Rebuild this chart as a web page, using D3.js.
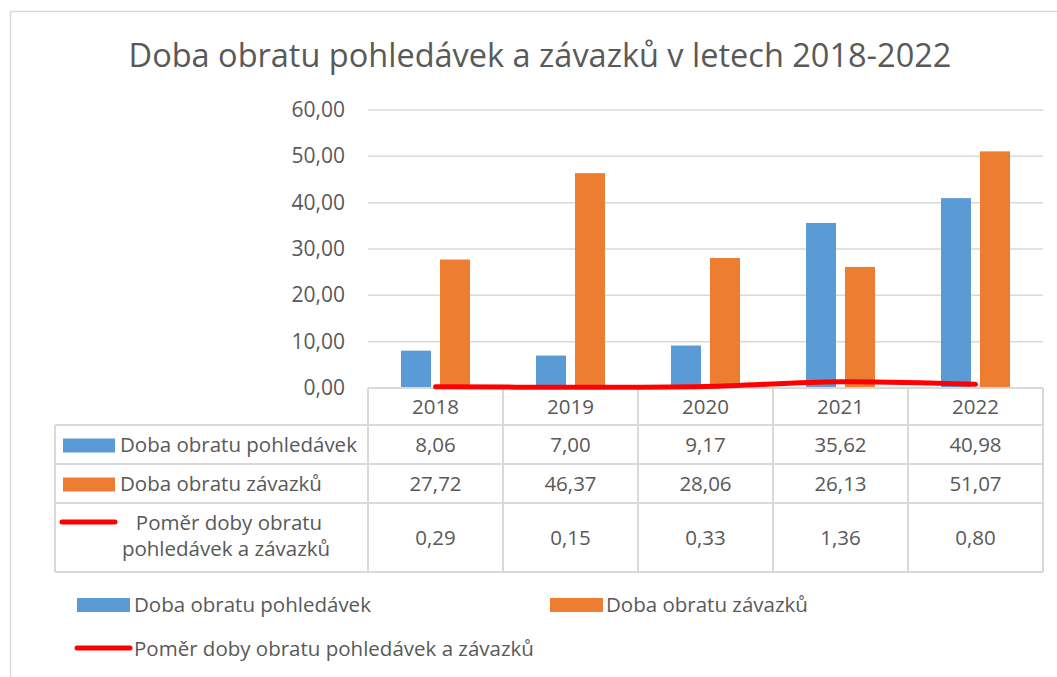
<html lang="cs">
<head>
<meta charset="UTF-8">
<title>Doba obratu</title>
<script src="https://d3js.org/d3.v7.min.js"></script>
<style>
  body { margin: 0; background: #fff; }
  text { font-family: "Open Sans", sans-serif; fill: #595959; }
</style>
</head>
<body>
<div id="chart"></div>
<script>
    // data
    const years = ["2018", "2019", "2020", "2021", "2022"];
    const pohledavky = [8.06, 7.00, 9.17, 35.62, 40.98];
    const zavazky = [27.72, 46.37, 28.06, 26.13, 51.07];
    const pomer = [0.29, 0.15, 0.33, 1.36, 0.80];
    const yTicks = [0, 10, 20, 30, 40, 50, 60];
    const seriesNames = ["Doba obratu pohledávek", "Doba obratu závazků", "Poměr doby obratu pohledávek a závazků"];

    const width = 1057, height = 677;
    const blue = "#5b9bd5", orange = "#ed7d31", red = "#ff0000", grid = "#d9d9d9";
    const fs = "20.5px";
    const fmt = v => d3.format(".2f")(v).replace(".", ",");

    const svg = d3.select("#chart").append("svg")
        .attr("width", width)
        .attr("height", height);

    // outer frame
    svg.append("path")
        .attr("d", `M10.5,${height} V11.5 H${width}`)
        .attr("fill", "none")
        .attr("stroke", grid)
        .attr("stroke-width", 1.5);

    // title
    svg.append("text")
        .attr("x", 540).attr("y", 67)
        .attr("text-anchor", "middle")
        .style("font-size", "32.5px")
        .text("Doba obratu pohledávek a závazků v letech 2018-2022");

    const x = d3.scaleBand().domain(years).range([368, 1043]);
    const xs = d3.scaleBand().domain(["p", "z"]).range([0, x.bandwidth()])
        .paddingInner(0.23).paddingOuter(0.846);
    const y = d3.scaleLinear().domain([0, 60]).range([388, 110]);

    // gridlines
    svg.append("g").selectAll("line")
        .data(yTicks.filter(d => d > 0))
        .join("line")
        .attr("x1", 368).attr("x2", 1043)
        .attr("y1", d => y(d)).attr("y2", d => y(d))
        .attr("stroke", grid).attr("stroke-width", 1.5);

    // y labels
    svg.append("g").selectAll("text")
        .data(yTicks)
        .join("text")
        .attr("x", 345).attr("y", d => y(d) + 7)
        .attr("text-anchor", "end")
        .style("font-size", "21px")
        .text(d => fmt(d));

    // bars
    const bars = svg.append("g");
    bars.selectAll(".p").data(pohledavky).join("rect")
        .attr("x", (d, i) => x(years[i]) + xs("p"))
        .attr("width", xs.bandwidth())
        .attr("y", d => y(d))
        .attr("height", d => y(0) - y(d))
        .attr("fill", blue);
    bars.selectAll(".z").data(zavazky).join("rect")
        .attr("x", (d, i) => x(years[i]) + xs("z"))
        .attr("width", xs.bandwidth())
        .attr("y", d => y(d))
        .attr("height", d => y(0) - y(d))
        .attr("fill", orange);

    // data table
    const rowTop = [388, 425, 464, 503, 572];
    const tableLeft = 55, tableRight = 1043;
    const tbl = svg.append("g").attr("stroke", grid).attr("stroke-width", 2);
    // horizontal lines
    tbl.append("line").attr("x1", 368).attr("x2", tableRight).attr("y1", rowTop[0]).attr("y2", rowTop[0]);
    rowTop.slice(1).forEach(ry => {
        tbl.append("line").attr("x1", tableLeft).attr("x2", tableRight).attr("y1", ry).attr("y2", ry);
    });
    // vertical lines
    tbl.append("line").attr("x1", tableLeft).attr("x2", tableLeft).attr("y1", rowTop[1]).attr("y2", rowTop[4]);
    years.forEach(yr => {
        tbl.append("line").attr("x1", x(yr)).attr("x2", x(yr)).attr("y1", rowTop[0]).attr("y2", rowTop[4]);
    });
    tbl.append("line").attr("x1", tableRight).attr("x2", tableRight).attr("y1", rowTop[0]).attr("y2", rowTop[4]);

    const cx = d => x(d) + x.bandwidth() / 2;
    const rowMid = i => (rowTop[i] + rowTop[i + 1]) / 2 + 7;

    svg.append("g").selectAll("text").data(years).join("text")
        .attr("x", d => cx(d)).attr("y", rowMid(0))
        .attr("text-anchor", "middle").style("font-size", fs)
        .text(d => d);

    [pohledavky, zavazky, pomer].forEach((vals, r) => {
        svg.append("g").selectAll("text").data(vals).join("text")
            .attr("x", (d, i) => cx(years[i])).attr("y", rowMid(r + 1))
            .attr("text-anchor", "middle").style("font-size", fs)
            .text(d => fmt(d));
    });

    // table legend keys
    svg.append("rect").attr("x", 63).attr("y", rowMid(1) - 13).attr("width", 52).attr("height", 14).attr("fill", blue);
    svg.append("rect").attr("x", 63).attr("y", rowMid(2) - 13).attr("width", 52).attr("height", 14).attr("fill", orange);
    svg.append("line").attr("x1", 62).attr("x2", 115).attr("y1", 522).attr("y2", 522)
        .attr("stroke", red).attr("stroke-width", 5).attr("stroke-linecap", "round");

    svg.append("text").attr("x", 120).attr("y", rowMid(1)).style("font-size", fs).text(seriesNames[0]);
    svg.append("text").attr("x", 120).attr("y", rowMid(2)).style("font-size", fs).text(seriesNames[1]);
    svg.append("text").attr("x", 229).attr("y", 530).attr("text-anchor", "middle").style("font-size", fs).text("Poměr doby obratu");
    svg.append("text").attr("x", 226).attr("y", 556).attr("text-anchor", "middle").style("font-size", fs).text("pohledávek a závazků");

    // ratio line
    const line = d3.line()
        .x((d, i) => cx(years[i]))
        .y(d => y(d))
        .curve(d3.curveCatmullRom.alpha(0.5));
    svg.append("path")
        .datum(pomer)
        .attr("d", line)
        .attr("fill", "none")
        .attr("stroke", red)
        .attr("stroke-width", 5)
        .attr("stroke-linecap", "round");

    // bottom legend
    const leg = svg.append("g").style("font-size", "20.5px");
    leg.append("rect").attr("x", 77).attr("y", 598).attr("width", 53).attr("height", 14).attr("fill", blue);
    leg.append("text").attr("x", 134).attr("y", 612).text(seriesNames[0]);
    leg.append("rect").attr("x", 550).attr("y", 598).attr("width", 53).attr("height", 14).attr("fill", orange);
    leg.append("text").attr("x", 606).attr("y", 612).text(seriesNames[1]);
    leg.append("line").attr("x1", 77).attr("x2", 130).attr("y1", 648).attr("y2", 648)
        .attr("stroke", red).attr("stroke-width", 5).attr("stroke-linecap", "round");
    leg.append("text").attr("x", 134).attr("y", 656).text(seriesNames[2]);
</script>
</body>
</html>
